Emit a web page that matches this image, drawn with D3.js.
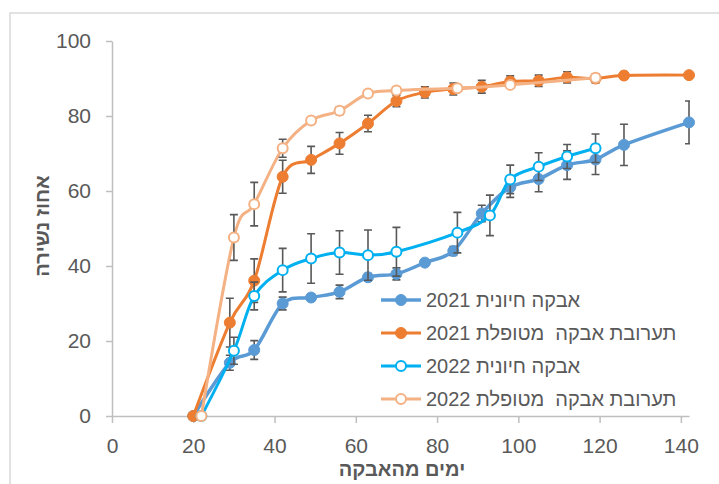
<!DOCTYPE html>
<html>
<head>
<meta charset="utf-8">
<script src="https://cdn.jsdelivr.net/npm/d3@7"></script>
<style>
	body { margin: 0; background: #ffffff; }
	svg { display: block; font-family: "Liberation Sans", Arial, sans-serif; }
</style>
</head>
<body>
<svg id="pollenChart"></svg>
<script>
// days after pollination and percent fruit drop
var days2021 = [20, 29, 35, 42, 49, 56, 63, 70, 77, 84, 91, 98, 105, 112, 119, 126, 142];
var viable2021 = [0, 14.2, 17.6, 30, 31.6, 33.1, 37, 37.9, 40.9, 44, 54, 61, 63.2, 66.9, 68.4, 72.3, 78.3];
var viable2021Err = [0, 2, 2.5, 1.7, 1, 1.8, 1, 1.6, 0, 1.2, 2.2, 2.7, 3.4, 3.8, 4, 5.5, 5.7];
var mix2021 = [0, 24.9, 36.1, 63.8, 68.3, 72.7, 78, 84, 86.3, 87.2, 87.8, 89.2, 89.4, 90.3, 90, 90.8, 90.9];
var mix2021Err = [0, 6.5, 5.8, 4.4, 3.6, 2.9, 2.2, 1.5, 1.5, 1.6, 1.7, 1.5, 1.5, 1.5, 1.2, 1, 0];

var days2022 = [22, 30, 35, 42, 49, 56, 63, 70, 85, 93, 98, 105, 112, 119];
var viable2022 = [0, 17.4, 32, 38.9, 42, 43.6, 42.9, 43.8, 48.9, 53.5, 63.1, 66.5, 69.2, 71.4];
var viable2022Err = [0, 3.6, 3.7, 5.8, 6.6, 5.8, 6.7, 6.5, 5.4, 5.4, 3.8, 3.7, 3.2, 3.8];
var mixDays2022 = [22, 30, 35, 42, 49, 56, 63, 70, 85, 98, 119];
var mix2022 = [0, 47.6, 56.5, 71.4, 78.8, 81.4, 86, 86.8, 87.4, 88.3, 90.2];
var mix2022Err = [0, 6.1, 5.8, 2.4, 1, 1, 0.8, 0.8, 0.8, 0.8, 0.8];

var seriesNames = ["אבקה חיונית 2021", "תערובת אבקה  מטופלת 2021", "אבקה חיונית 2022", "תערובת אבקה  מטופלת 2022"];
var seriesColors = ["#5B9BD5", "#ED7D31", "#00B0F0", "#F4B183"];
var xTicks = [0, 20, 40, 60, 80, 100, 120, 140];
var yTicks = [0, 20, 40, 60, 80, 100];
var xTitle = "ימים מהאבקה";
var yTitle = "אחוז נשירה";

function zipSeries(days, values, errs) {
	return days.map(function(d, i) { return { day: d, value: values[i], err: errs[i] }; });
}

var series = [
	{ name: seriesNames[0], color: seriesColors[0], open: false, width: 3.5, points: zipSeries(days2021, viable2021, viable2021Err) },
	{ name: seriesNames[1], color: seriesColors[1], open: false, width: 3, points: zipSeries(days2021, mix2021, mix2021Err) },
	{ name: seriesNames[2], color: seriesColors[2], open: true, width: 3, points: zipSeries(days2022, viable2022, viable2022Err) },
	{ name: seriesNames[3], color: seriesColors[3], open: true, width: 3, points: zipSeries(mixDays2022, mix2022, mix2022Err) }
];

var width = 719, height = 484;
var margin = { top: 41, right: 30, bottom: 68, left: 112 };
var textGray = "#595959";
var axisGray = "#BFBFBF";

var svg = d3.select("#pollenChart")
	.attr("width", width)
	.attr("height", height);

// outer chart frame (only top and left edges fall inside the picture)
svg.append("path")
	.attr("d", "M10," + height + "V13H" + width)
	.attr("fill", "none")
	.attr("stroke", "#D9D9D9")
	.attr("stroke-width", 1.5);

var xScale = d3.scaleLinear().domain([0, 142]).range([margin.left, width - margin.right]);
var yScale = d3.scaleLinear().domain([0, 100]).range([height - margin.bottom, margin.top]);

svg.append("clipPath")
	.attr("id", "plotClip")
	.append("rect")
	.attr("x", margin.left)
	.attr("y", margin.top - 2)
	.attr("width", width - margin.right - margin.left + 1)
	.attr("height", height - margin.bottom - margin.top + 4);

var xAxis = d3.axisBottom(xScale).tickValues(xTicks).tickSizeInner(7).tickSizeOuter(0).tickPadding(15);
var yAxis = d3.axisLeft(yScale).tickValues(yTicks).tickSizeInner(6).tickSizeOuter(0).tickPadding(15);

var xAxisLine = svg.append("g")
	.attr("class", "xAxis")
	.attr("transform", "translate(0," + yScale(0) + ")")
	.call(xAxis);
var yAxisLine = svg.append("g")
	.attr("class", "yAxis")
	.attr("transform", "translate(" + margin.left + ",0)")
	.call(yAxis);

svg.selectAll(".xAxis path, .yAxis path, .xAxis line, .yAxis line")
	.attr("stroke", axisGray)
	.attr("stroke-width", 1.5);
svg.selectAll(".xAxis text, .yAxis text")
	.attr("fill", textGray)
	.style("font-size", "21px");

svg.append("text")
	.attr("x", 402)
	.attr("y", 476)
	.attr("text-anchor", "middle")
	.attr("fill", textGray)
	.style("font-size", "20px")
	.style("font-weight", "bold")
	.text(xTitle);

svg.append("text")
	.attr("transform", "translate(49,226) rotate(-90)")
	.attr("text-anchor", "middle")
	.attr("fill", textGray)
	.style("font-size", "20px")
	.style("font-weight", "bold")
	.text(yTitle);

var line = d3.line()
	.x(function(d) { return xScale(d.day); })
	.y(function(d) { return yScale(d.value); })
	.curve(d3.curveCatmullRom.alpha(0));

var container = svg.append("g").attr("class", "container");

series.forEach(function(s) {
	var g = container.append("g").attr("class", "series");

	g.append("path")
		.datum(s.points)
		.attr("d", line)
		.attr("fill", "none")
		.attr("stroke", s.color)
		.attr("stroke-width", s.width)
		.attr("stroke-linejoin", "round");

	g.append("g")
		.attr("clip-path", "url(#plotClip)")
		.selectAll(".errBar")
		.data(s.points.filter(function(d) { return d.err > 0; }))
		.enter()
		.append("path")
		.attr("class", "errBar")
		.attr("d", function(d) {
			var x = xScale(d.day), y1 = yScale(d.value + d.err), y2 = yScale(d.value - d.err);
			return "M" + (x - 4) + "," + y1 + "H" + (x + 4) + "M" + x + "," + y1 + "V" + y2 + "M" + (x - 4) + "," + y2 + "H" + (x + 4);
		})
		.attr("fill", "none")
		.attr("stroke", "#595959")
		.attr("stroke-width", 1.6);

	g.selectAll(".marker")
		.data(s.points)
		.enter()
		.append("circle")
		.attr("class", "marker")
		.attr("cx", function(d) { return xScale(d.day); })
		.attr("cy", function(d) { return yScale(d.value); })
		.attr("r", s.open ? 5 : 5.5)
		.attr("fill", s.open ? "#ffffff" : s.color)
		.attr("stroke", s.color)
		.attr("stroke-width", s.open ? 2 : 1);
});

// legend
var legend = svg.append("g").attr("class", "legend");
var legendRows = legend.selectAll(".legendRow")
	.data(series)
	.enter()
	.append("g")
	.attr("class", "legendRow")
	.attr("transform", function(d, i) { return "translate(0," + (300 + i * 33) + ")"; });

legendRows.append("line")
	.attr("x1", 381).attr("x2", 421)
	.attr("y1", 0).attr("y2", 0)
	.attr("stroke", function(d) { return d.color; })
	.attr("stroke-width", function(d) { return d.width; });
legendRows.append("circle")
	.attr("cx", 401).attr("cy", 0)
	.attr("r", function(d) { return d.open ? 5 : 5.5; })
	.attr("fill", function(d) { return d.open ? "#ffffff" : d.color; })
	.attr("stroke", function(d) { return d.color; })
	.attr("stroke-width", function(d) { return d.open ? 2 : 1; });
legendRows.append("text")
	.attr("x", 426)
	.attr("y", 0)
	.attr("dy", "0.35em")
	.attr("fill", textGray)
	.style("font-size", "20px")
	.style("white-space", "pre")
	.text(function(d) { return d.name; });
</script>
</body>
</html>
